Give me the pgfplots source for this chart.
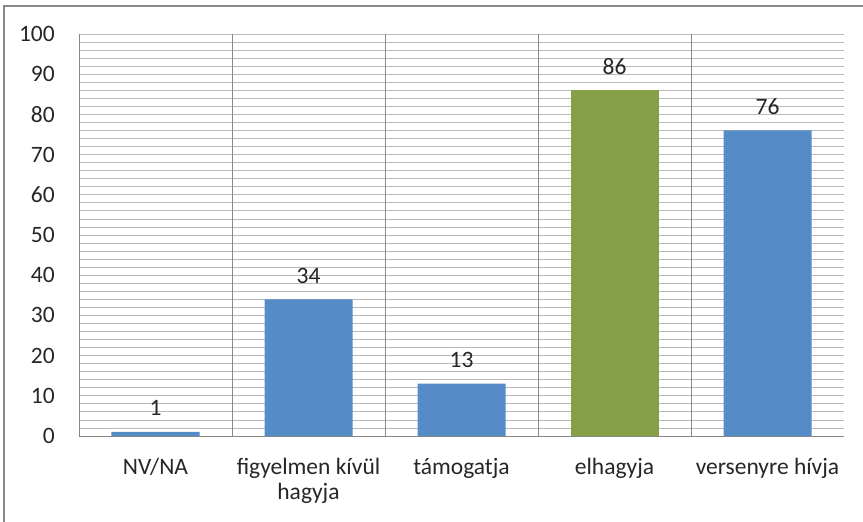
\documentclass[border=0pt]{standalone}
\usepackage{fontspec}
\setmainfont{Carlito}
\usepackage{pgfplots}
\pgfplotsset{compat=1.18}

\definecolor{barblue}{HTML}{558BC6}
\definecolor{bargreen}{HTML}{85A046}
\definecolor{gridgray}{HTML}{BABABA}
\definecolor{axgray}{HTML}{888888}
\definecolor{txt}{HTML}{262626}

\begin{document}
\begin{tikzpicture}[x=1pt,y=1pt]
\path[use as bounding box] (0,0) rectangle (863,522);
\draw[axgray, line width=1.2pt] (4,0) -- (4,516) -- (863,516);
\begin{axis}[
  at={(79pt,86pt)}, anchor=south west,
  scale only axis, width=765pt, height=402pt,
  font=\fontsize{23.5}{25}\selectfont, text=txt,
  xmin=-0.5, xmax=4.5, ymin=0, ymax=100,
  xtick={0,1,2,3,4},
  xticklabels={NV/NA, {figyelmen kívül\\hagyja}, támogatja, elhagyja, versenyre hívja},
  xticklabel style={align=center, anchor=north, inner sep=0pt, yshift=-22pt},
  extra x ticks={0.5,1.5,2.5,3.5}, extra x tick labels={},
  extra x tick style={grid=major, major grid style={axgray, line width=0.8pt}},
  ytick={0,10,...,100}, minor y tick num=4,
  yticklabel style={anchor=east, inner sep=0pt, xshift=-24pt},
  /pgf/number format/assume math mode=true,
  ymajorgrids, yminorgrids,
  major grid style={gridgray, line width=0.8pt},
  minor grid style={gridgray, line width=0.8pt},
  major tick length=0pt, minor tick length=0pt,
  axis x line*=bottom, axis y line*=left,
  axis line style={axgray, line width=0.8pt, -},
  ybar=0pt, bar width=88pt,
  nodes near coords,
  every node near coord/.append style={anchor=base, yshift=16pt, text=txt,
    font=\fontsize{23.5}{25}\selectfont},
  clip=false,
]
\addplot[fill=barblue, draw=none, bar shift=0pt] coordinates {(0,1) (1,34) (2,13) (4,76)};
\addplot[fill=bargreen, draw=none, bar shift=0pt] coordinates {(3,86)};
\end{axis}
\end{tikzpicture}
\end{document}
